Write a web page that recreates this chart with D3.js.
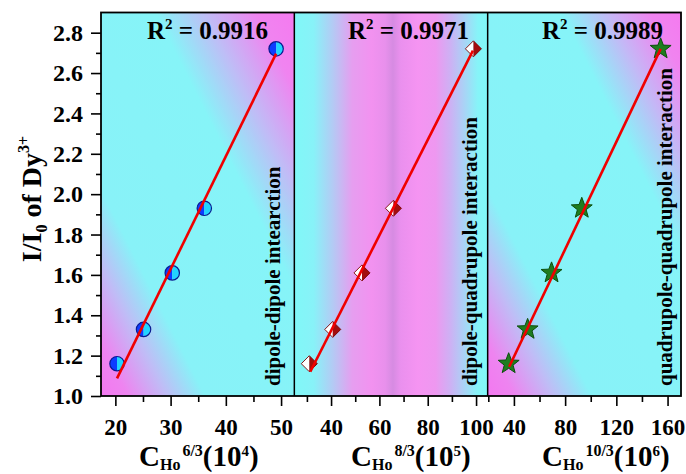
<!DOCTYPE html>
<html>
<head>
<meta charset="utf-8">
<script src="https://cdn.jsdelivr.net/npm/d3@7/dist/d3.min.js"></script>
<style>
  body { margin: 0; background: #fff; }
  svg { display: block; }
  text { font-family: "Liberation Serif", "Times New Roman", serif; font-weight: bold; fill: #000; }
</style>
</head>
<body>
<script>
// Normalised emission intensity I/I0 of Dy3+ (same for every panel)
const yValues = [1.16, 1.33, 1.61, 1.93, 2.72];

// Ho concentration raised to n/3 for each interaction type
const xDipoleDipole = [20.3, 25.1, 30.3, 36.1, 49.1];        // C^(6/3), x10^4
const xDipoleQuadrupole = [31.0, 40.7, 52.8, 65.8, 98.9];    // C^(8/3), x10^5
const xQuadQuad = [35.9, 50.7, 69.4, 93.0, 154.6];           // C^(10/3), x10^6

// Linear fit end points [x0, x1] and [y0, y1]
const fitX = [[20.3, 49.1], [31.4, 98.7], [36.3, 154.6]];
const fitY = [[1.087, 2.696], [1.12, 2.711], [1.145, 2.72]];

// R^2 of each fit
const rSquared = ["0.9916", "0.9971", "0.9989"];

// Interaction names
const interactionLabels = ["dipole-dipole intearction", "dipole-quadrupole interaction", "quadrupole-quadrupole interaction"];

// Axis tick values
const xMajorTicks = [[20, 30, 40, 50], [40, 60, 80, 100], [40, 80, 120, 160]];
const xMinorTicks = [[25, 35, 45], [30, 50, 70, 90], [20, 60, 100, 140]];
const xDomains = [[17.4, 52.4], [24.8, 104.8], [19.5, 170.5]];
const exponents = [["6/3", "4"], ["8/3", "5"], ["10/3", "6"]];
const yMajorTicks = [1.0, 1.2, 1.4, 1.6, 1.8, 2.0, 2.2, 2.4, 2.6, 2.8];
const yMinorTicks = [1.1, 1.3, 1.5, 1.7, 1.9, 2.1, 2.3, 2.5, 2.7];

const W = 686, H = 474;
const plot = { left: 101, right: 681, top: 12.5, bottom: 396 };
const panelW = (plot.right - plot.left) / 3;

const svg = d3.select("body").append("svg").attr("width", W).attr("height", H);
const defs = svg.append("defs");

// Background gradients
function addGradient(id, dir, stops) {
  const g = defs.append("linearGradient").attr("id", id)
    .attr("x1", dir[0]).attr("y1", dir[1]).attr("x2", dir[2]).attr("y2", dir[3]);
  stops.forEach(s => g.append("stop").attr("offset", s[0]).attr("stop-color", s[1]));
}
addGradient("bg0", [0, 1, 1, 0], [
  [0, "#f378f0"], [0.07, "#ee84f0"], [0.17, "#c0bcf6"], [0.27, "#88f2f8"],
  [0.64, "#86f4f8"], [0.77, "#c0bcf6"], [0.9, "#f084f0"], [1, "#f57af0"]]);
addGradient("bg1", [0, 0, 1, 0], [
  [0, "#80f8f8"], [0.1, "#88f2f8"], [0.2, "#b4caf4"], [0.3, "#e69ef0"],
  [0.4, "#f292f0"], [0.47, "#e890ec"], [0.51, "#d68be2"], [0.55, "#ea90ee"],
  [0.64, "#f594f2"], [0.73, "#ee98f0"], [0.81, "#ccb2f4"], [0.89, "#a4d8f6"],
  [0.95, "#86f4f8"], [1, "#80f8f8"]]);
addGradient("bg2", [0, 1, 1, 0], [
  [0, "#f378f0"], [0.07, "#ee84f0"], [0.17, "#c0bcf6"], [0.27, "#88f2f8"],
  [0.69, "#86f4f8"], [0.81, "#c4b8f6"], [0.92, "#f084f0"], [1, "#f57af0"]]);

const y = d3.scaleLinear().domain([1.0, 2.9]).range([plot.bottom, plot.top]);

// Marker shapes
const half = d3.arc().innerRadius(0).outerRadius(7.2);
function drawCircle(g) {
  g.append("path").attr("d", half({ startAngle: Math.PI, endAngle: 2 * Math.PI })).attr("fill", "#0d3cff");
  g.append("path").attr("d", half({ startAngle: 0, endAngle: Math.PI })).attr("fill", "#22d4ff");
  g.append("circle").attr("r", 7.2).attr("fill", "none").attr("stroke", "#0a1a90").attr("stroke-width", 1.2);
}
function drawDiamond(g) {
  const s = 8;
  g.append("path").attr("d", `M0,${-s}L0,${s}L${-s},0Z`).attr("fill", "#ffffff");
  g.append("path").attr("d", `M0,${-s}L${s},0L0,${s}Z`).attr("fill", "#a30d0d");
  g.append("path").attr("d", `M0,${-s}L${s},0L0,${s}L${-s},0Z`).attr("fill", "none")
    .attr("stroke", "#7a0000").attr("stroke-width", 0.9);
}
function starPath(R, r) {
  const pts = [];
  for (let i = 0; i < 10; i++) {
    const a = -Math.PI / 2 + i * Math.PI / 5;
    const rad = i % 2 === 0 ? R : r;
    pts.push([rad * Math.cos(a), rad * Math.sin(a)]);
  }
  return "M" + pts.map(p => p.join(",")).join("L") + "Z";
}
function drawStar(g) {
  g.append("path").attr("d", starPath(11, 4.6)).attr("fill", "#1f7d1f")
    .attr("stroke", "#0c4f0c").attr("stroke-width", 1);
}
const markers = [drawCircle, drawDiamond, drawStar];
const xSeries = [xDipoleDipole, xDipoleQuadrupole, xQuadQuad];

// Per-panel label placement
const rStart = [147, 348, 542];
const titleStart = [139, 351, 542];
const vertLabelX = [280, 476.5, 672];

for (let p = 0; p < 3; p++) {
  const x0 = plot.left + p * panelW;
  const x = d3.scaleLinear().domain(xDomains[p]).range([x0, x0 + panelW]);
  const g = svg.append("g");

  g.append("rect").attr("x", x0).attr("y", plot.top)
    .attr("width", panelW).attr("height", plot.bottom - plot.top)
    .attr("fill", `url(#bg${p})`);

  // Points
  xSeries[p].forEach((xv, i) => {
    const m = g.append("g").attr("transform", `translate(${x(xv)},${y(yValues[i])})`);
    markers[p](m);
  });

  // Fit line
  g.append("line")
    .attr("x1", x(fitX[p][0])).attr("y1", y(fitY[p][0]))
    .attr("x2", x(fitX[p][1])).attr("y2", y(fitY[p][1]))
    .attr("stroke", "#f00000").attr("stroke-width", 2.6);

  // R^2 label
  const rt = g.append("text").attr("x", rStart[p]).attr("y", 39).style("font-size", "25px");
  rt.append("tspan").text("R");
  rt.append("tspan").attr("dy", -10).style("font-size", "15px").text("2");
  rt.append("tspan").attr("dy", 10).text(" = " + rSquared[p]);

  // Vertical interaction label
  g.append("text")
    .attr("transform", `translate(${vertLabelX[p]},386) rotate(-90)`)
    .style("font-size", "21px")
    .text(interactionLabels[p]);

  // Bottom axis, major and minor ticks
  const axMajor = d3.axisBottom(x).tickValues(xMajorTicks[p]).tickSize(10).tickFormat(d3.format("d"));
  const axMinor = d3.axisBottom(x).tickValues(xMinorTicks[p]).tickSize(6).tickFormat("");
  const gx = svg.append("g").attr("transform", `translate(0,${plot.bottom})`).call(axMajor);
  svg.append("g").attr("transform", `translate(0,${plot.bottom})`).call(axMinor)
    .call(a => a.select(".domain").remove())
    .selectAll("line").attr("stroke", "#000").attr("stroke-width", 1.6);
  gx.select(".domain").remove();
  gx.selectAll("line").attr("stroke", "#000").attr("stroke-width", 1.6);
  gx.selectAll("text").attr("y", 39).attr("dy", 0).style("font-size", "23px")
    .style("font-family", "'Liberation Serif', serif").style("font-weight", "bold");

  // Axis title: C_Ho^(n/3) (10^k)
  const tt = svg.append("text").attr("x", titleStart[p]).attr("y", 466).style("font-size", "29px");
  tt.append("tspan").attr("y", 466).text("C");
  tt.append("tspan").attr("y", 470).style("font-size", "16px").text("Ho");
  tt.append("tspan").attr("y", 455.5).attr("dx", 2).style("font-size", "16px").text(exponents[p][0]);
  tt.append("tspan").attr("y", 466).text("(10");
  tt.append("tspan").attr("y", 455.5).style("font-size", "15px").text(exponents[p][1]);
  tt.append("tspan").attr("y", 466).text(")");
}

// Left axis
const gyMaj = svg.append("g").attr("transform", `translate(${plot.left},0)`)
  .call(d3.axisLeft(y).tickValues(yMajorTicks).tickSize(10).tickPadding(8).tickFormat(d3.format(".1f")));
const gyMin = svg.append("g").attr("transform", `translate(${plot.left},0)`)
  .call(d3.axisLeft(y).tickValues(yMinorTicks).tickSize(5).tickFormat(""));
[gyMaj, gyMin].forEach(a => {
  a.select(".domain").remove();
  a.selectAll("line").attr("stroke", "#000").attr("stroke-width", 1.6);
});
gyMaj.selectAll("text").style("font-size", "24px")
  .style("font-family", "'Liberation Serif', serif").style("font-weight", "bold");

// Frame and panel dividers
svg.append("rect").attr("x", plot.left).attr("y", plot.top)
  .attr("width", plot.right - plot.left).attr("height", plot.bottom - plot.top)
  .attr("fill", "none").attr("stroke", "#000").attr("stroke-width", 1.8);
[1, 2].forEach(i => svg.append("line")
  .attr("x1", plot.left + i * panelW).attr("x2", plot.left + i * panelW)
  .attr("y1", plot.top).attr("y2", plot.bottom)
  .attr("stroke", "#000").attr("stroke-width", 1.5));

// Y axis title
const yt = svg.append("text")
  .attr("transform", `translate(41,199) rotate(-90)`)
  .attr("text-anchor", "middle").style("font-size", "28px");
yt.append("tspan").text("I/I");
yt.append("tspan").attr("dy", 6).style("font-size", "16px").text("0");
yt.append("tspan").attr("dy", -6).text(" of Dy");
yt.append("tspan").attr("dy", -12).style("font-size", "16px").text("3+");
</script>
</body>
</html>
